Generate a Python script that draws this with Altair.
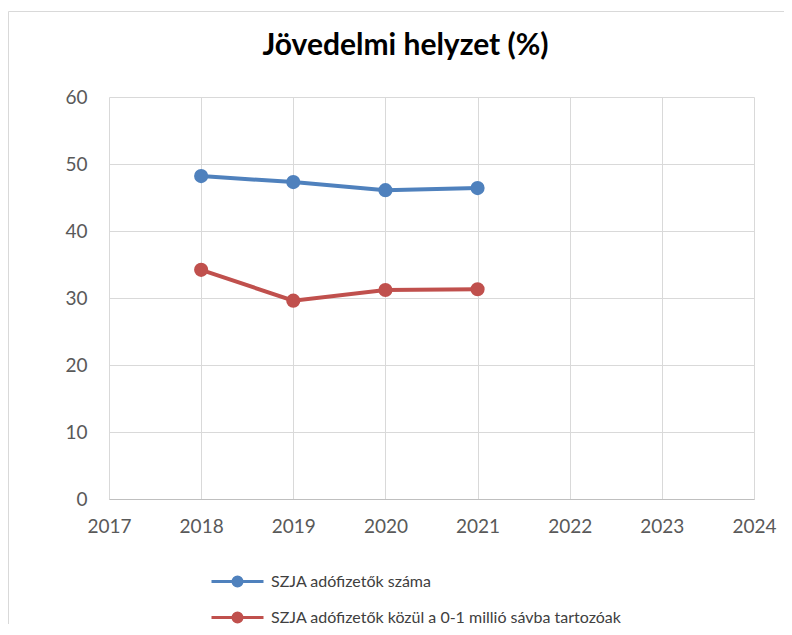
import altair as alt
import pandas as pd

years = [2018, 2019, 2020, 2021]
series_names = ["SZJA adófizetők száma", "SZJA adófizetők közül a 0-1 millió sávba tartozóak"]
szja_total = [48.2, 47.3, 46.1, 46.4]
szja_low = [34.2, 29.6, 31.2, 31.3]
x_ticks = [2017, 2018, 2019, 2020, 2021, 2022, 2023, 2024]
y_ticks = [0, 10, 20, 30, 40, 50, 60]
colors = ["#4F81BD", "#C0504D"]

rows = []
for name, vals in zip(series_names, [szja_total, szja_low]):
    for y, v in zip(years, vals):
        rows.append({"year": y, "value": v, "series": name})
df = pd.DataFrame(rows)

# legend symbol: line with filled dot (made of strokes)
sym = ("M-2,0 L2,0 "
       "M-0.115,0 A0.115,0.115 0 1,0 0.115,0 A0.115,0.115 0 1,0 -0.115,0 "
       "M-0.346,0 A0.346,0.346 0 1,0 0.346,0 A0.346,0.346 0 1,0 -0.346,0")

color = alt.Color(
    "series:N",
    scale=alt.Scale(domain=series_names, range=colors),
    legend=alt.Legend(
        title=None, orient="none", legendX=114, legendY=470, direction="vertical",
        symbolType=sym, symbolSize=676, symbolStrokeWidth=3, labelOffset=19,
        rowPadding=11, padding=0, labelFont="Lato", labelFontSize=16,
        labelColor="#404040", labelLimit=600,
    ),
)

x = alt.X("year:Q", scale=alt.Scale(domain=[2017, 2024], nice=False),
          axis=alt.Axis(values=x_ticks, format="d", title=None, grid=True,
                        gridColor="#D9D9D9", ticks=False, domainColor="#BFBFBF",
                        labelFont="Lato", labelFontSize=19, labelColor="#595959",
                        labelPadding=18, labelFlush=False))
y = alt.Y("value:Q", scale=alt.Scale(domain=[0, 60], nice=False),
          axis=alt.Axis(values=y_ticks, title=None, grid=True, gridColor="#D9D9D9",
                        ticks=False, domain=False, labelFont="Lato", labelFontSize=19,
                        labelColor="#595959", labelPadding=22))

frame = alt.Chart(pd.DataFrame({"a": [0]})).mark_rect(
    fill=None, stroke="#D9D9D9", strokeWidth=1
).encode(x=alt.value(-100.5), x2=alt.value(700), y=alt.value(-85.5), y2=alt.value(560))

lines = alt.Chart(df).mark_line(strokeWidth=4).encode(x=x, y=y, color=color)
points = alt.Chart(df).mark_point(filled=True, size=200, opacity=1).encode(x=x, y=y, color=color)

chart = alt.layer(frame, lines, points).properties(
    width=645, height=402,
    title=alt.Title("Jövedelmi helyzet (%)", font="Lato", fontSize=30, fontWeight="bold",
                    color="#000000", anchor="middle", frame="group", dx=-26,
                    baseline="alphabetic", offset=-74),
    autosize=alt.AutoSizeParams(type="none"),
    padding={"left": 101, "top": 89, "right": 30, "bottom": 125},
).configure_view(stroke=None)

chart.save("out.html", embed_options={"renderer": "svg", "actions": False})
